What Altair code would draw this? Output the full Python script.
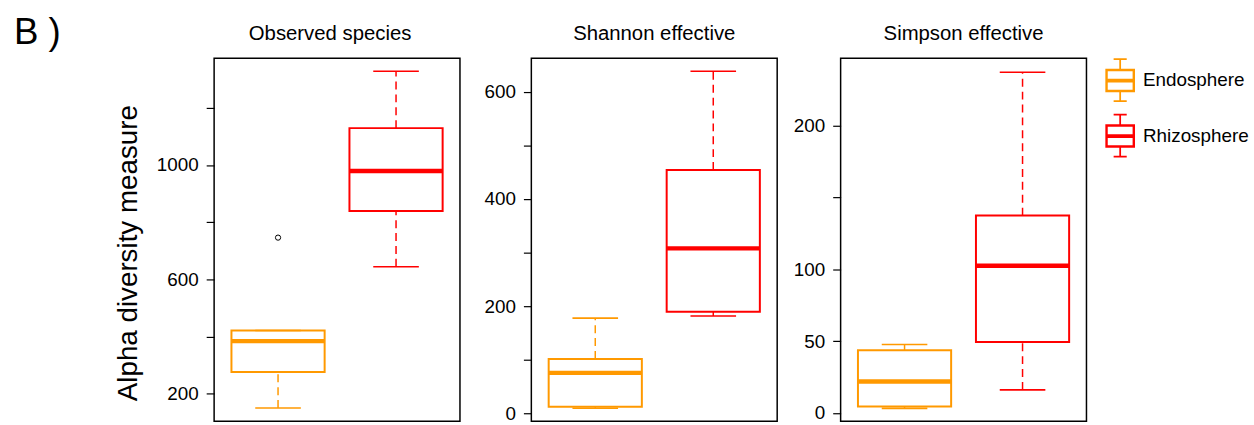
import altair as alt
import pandas as pd

# ---------------- data ----------------
panel_titles = ["Observed species", "Shannon effective", "Simpson effective"]
groups = ["Endosphere", "Rhizosphere"]
colors = ["#FF9900", "#FF0000"]

# per panel: [Endosphere, Rhizosphere]
obs_lower = [150, 644]
obs_q1 = [276, 839]
obs_median = [384, 979]
obs_q3 = [421, 1129]
obs_upper = [421, 1328]
obs_outlier_group = ["Endosphere"]
obs_outlier_value = [746]

sha_lower = [10, 182]
sha_q1 = [13, 190]
sha_median = [76, 308]
sha_q3 = [102, 454]
sha_upper = [178, 638]

sim_lower = [3.2, 16.1]
sim_q1 = [4.6, 49.5]
sim_median = [21.9, 102.5]
sim_q3 = [43.7, 137.5]
sim_upper = [47.7, 237.3]

y_domains = [[104, 1373], [-14, 662], [-5.7, 247]]
tick_values = [[200, 400, 600, 800, 1000, 1200],
               [0, 100, 200, 300, 400, 500, 600],
               [0, 50, 100, 150, 200]]
label_values = [[200, 600, 1000], [0, 200, 400, 600], [0, 50, 100, 200]]

stats = [
    (obs_lower, obs_q1, obs_median, obs_q3, obs_upper),
    (sha_lower, sha_q1, sha_median, sha_q3, sha_upper),
    (sim_lower, sim_q1, sim_median, sim_q3, sim_upper),
]

FONT = "Liberation Sans"
PW, PH = 248, 366
title_dx = [-7, 0, 0]

# boxplot glyph for legend (unit coordinates, filled with nonzero winding)
GLYPH = ("M-0.68,-0.52H0.68V0.55H-0.68Z"
         "M-0.57,-0.41V0.44H0.57V-0.41Z"
         "M-0.57,-0.07H0.57V0.11H-0.57Z"
         "M-0.04,-1H0.04V-0.52H-0.04Z"
         "M-0.3,-1H0.3V-0.92H-0.3Z"
         "M-0.04,0.55H0.04V1H-0.04Z"
         "M-0.3,0.92H0.3V1H-0.3Z")

legend = alt.Legend(
    title=None, orient="right", offset=11, padding=0,
    symbolType=GLYPH, symbolSize=1936, symbolStrokeWidth=0, symbolOpacity=1,
    labelFont=FONT, labelFontSize=19, labelColor="black",
    labelOffset=1, rowPadding=12,
)

extents = [None, 56, 48]


def make_panel(i):
    lo, q1, med, q3, up = stats[i]
    df = pd.DataFrame({"group": groups, "lower": lo, "q1": q1,
                       "median": med, "q3": q3, "upper": up})
    xenc = alt.X("group:N", scale=alt.Scale(domain=groups, paddingInner=0,
                                            paddingOuter=0.0417), axis=None)
    cenc = alt.Color("group:N", scale=alt.Scale(domain=groups, range=colors),
                     legend=legend)
    labs = label_values[i]
    axis_kw = dict(values=tick_values[i], format="d",
                   labelExpr="indexof(" + str(labs) + ", datum.value) >= 0 ? datum.label : ''")
    if i == 0:
        axis_kw.update(title="Alpha diversity measure", titlePadding=14, titleY=196)
    else:
        axis_kw.update(title=None, minExtent=extents[i], maxExtent=extents[i])
    yscale = alt.Scale(domain=y_domains[i], nice=False, zero=False)
    base = alt.Chart(df).encode(x=xenc, color=cenc)

    md = base.mark_tick(size=94, thickness=4.5, opacity=1).encode(
        y=alt.Y("median:Q", scale=yscale, axis=alt.Axis(**axis_kw)))
    lw = base.mark_rule(strokeDash=[8, 5], strokeWidth=1.5).encode(
        y=alt.Y("lower:Q"), y2="q1:Q")
    uw = base.mark_rule(strokeDash=[8, 5], strokeWidth=1.5).encode(
        y=alt.Y("q3:Q"), y2="upper:Q")
    cl = base.mark_tick(size=46, thickness=1.6, opacity=1).encode(y="lower:Q")
    cu = base.mark_tick(size=46, thickness=1.6, opacity=1).encode(y="upper:Q")
    box = base.mark_bar(size=94, filled=False, strokeWidth=2, opacity=1).encode(
        y="q1:Q", y2="q3:Q")
    ttl = alt.Chart(pd.DataFrame({"t": [panel_titles[i]]})).mark_text(
        font=FONT, fontSize=20.5, align="center", baseline="alphabetic",
        color="black").encode(text="t:N", x=alt.value(PW / 2 + title_dx[i]),
                              y=alt.value(-19))
    layers = [md, lw, uw, cl, cu, box, ttl]
    if i == 0:
        odf = pd.DataFrame({"group": obs_outlier_group, "value": obs_outlier_value})
        pts = alt.Chart(odf).mark_point(shape="circle", size=28, filled=False,
                                         color="black", strokeWidth=1, opacity=1).encode(
            x=alt.X("group:N"), y=alt.Y("value:Q"))
        lab = alt.Chart(pd.DataFrame({"t": ["B )"]})).mark_text(
            font=FONT, fontSize=37, align="left", baseline="alphabetic",
            color="black").encode(text="t:N", x=alt.value(-202), y=alt.value(-14))
        layers += [pts, lab]
    return alt.layer(*layers).properties(width=PW, height=PH)


chart = alt.hconcat(*[make_panel(i) for i in range(3)], spacing=14).resolve_scale(
    y="independent", x="independent"
).configure_view(stroke="black", strokeWidth=1.5).configure_axis(
    domain=False, grid=False, tickColor="black", tickSize=8, tickWidth=1.2,
    labelFont=FONT, labelFontSize=19, labelColor="black", labelPadding=8,
    titleFont=FONT, titleFontSize=28, titleFontWeight="normal", titleColor="black",
).properties(
    padding={"left": 13, "top": 12, "right": 5, "bottom": 0},
    background="white",
)

chart.save("out.html", embed_options={"renderer": "svg", "actions": False})
